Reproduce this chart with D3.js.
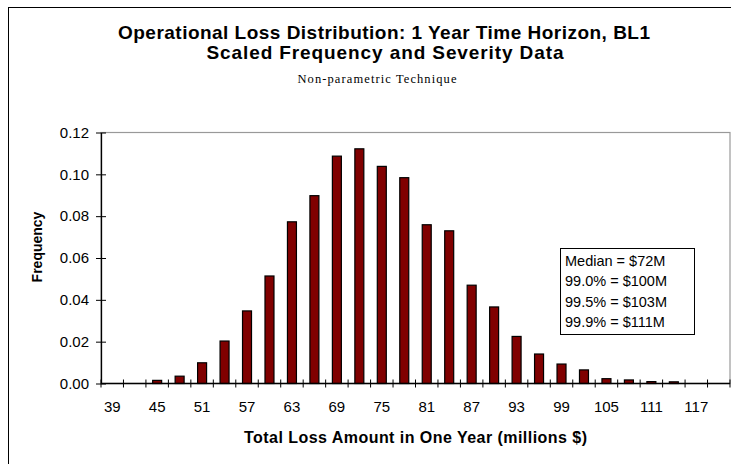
<!DOCTYPE html>
<html>
<head>
<meta charset="utf-8">
<script src="https://cdn.jsdelivr.net/npm/d3@7"></script>
<style>
  body { margin: 0; background: #fff; }
  svg { display: block; }
  text { font-family: "Liberation Sans", Arial, sans-serif; fill: #000; }
</style>
</head>
<body>
<svg id="chart" width="731" height="464"></svg>
<script>
// Total loss bins (millions $), three-million steps
const lossBins = [39, 42, 45, 48, 51, 54, 57, 60, 63, 66, 69, 72, 75, 78,
                  81, 84, 87, 90, 93, 96, 99, 102, 105, 108, 111, 114, 117, 120];
// Relative frequency of each bin
const frequency = [0, 0, 0.0015, 0.0035, 0.0099, 0.0203, 0.0347, 0.0514, 0.0773, 0.0898,
                   0.1087, 0.1122, 0.1038, 0.0984, 0.0759, 0.0730, 0.0470, 0.0366, 0.0225,
                   0.0141, 0.0093, 0.0065, 0.0023, 0.0017, 0.0009, 0.0008, 0, 0];
const yTicks = [0, 0.02, 0.04, 0.06, 0.08, 0.10, 0.12];
const xLabelBins = [39, 45, 51, 57, 63, 69, 75, 81, 87, 93, 99, 105, 111, 117];
const statsLines = ["Median = $72M", "99.0% = $100M", "99.5% = $103M", "99.9% = $111M"];
const titleLines = ["Operational Loss Distribution: 1 Year Time Horizon, BL1",
                    "Scaled Frequency and Severity Data"];
const subtitle = "Non-parametric Technique";
const xTitle = "Total Loss Amount in One Year (millions $)";
const yTitle = "Frequency";

const svg = d3.select("#chart");

// chart frame
svg.append("rect")
  .attr("x", 8.5).attr("y", 7.5).attr("width", 800).attr("height", 500)
  .attr("fill", "#fff").attr("stroke", "#000").attr("stroke-width", 1);

const plot = { left: 101, right: 730, top: 132.5, bottom: 383.5 };

const x = d3.scaleBand()
  .domain(lossBins)
  .range([plot.left, plot.right])
  .paddingInner(0.6)
  .paddingOuter(0.3);

const y = d3.scaleLinear()
  .domain([0, 0.12])
  .range([plot.bottom, plot.top]);

// plot area border
svg.append("rect")
  .attr("x", plot.left).attr("y", plot.top)
  .attr("width", plot.right - plot.left).attr("height", plot.bottom - plot.top)
  .attr("fill", "none").attr("stroke", "#999").attr("stroke-width", 1.2);

// bars
svg.append("g").selectAll("rect")
  .data(lossBins.map((b, i) => ({ bin: b, value: frequency[i] })).filter(d => d.value > 0))
  .join("rect")
  .attr("x", d => x(d.bin))
  .attr("y", d => y(d.value))
  .attr("width", x.bandwidth())
  .attr("height", d => y(0) - y(d.value))
  .attr("fill", "#800000")
  .attr("stroke", "#000")
  .attr("stroke-width", 1.2);

// y axis with ticks crossing the axis line
const yAxis = svg.append("g")
  .attr("transform", `translate(${plot.left},0)`)
  .call(d3.axisLeft(y).tickValues(yTicks).tickFormat(d3.format(".2f"))
    .tickSize(5).tickSizeOuter(0).tickPadding(7));
yAxis.selectAll(".tick line").attr("x1", 5).attr("stroke", "#000");
yAxis.select(".domain").attr("stroke", "#000").attr("stroke-width", 1.3);
yAxis.selectAll(".tick text")
  .style("font-family", "'Liberation Sans', Arial, sans-serif")
  .style("font-size", "15px");

// x axis: labels centred on every other bin
const xAxis = svg.append("g")
  .attr("transform", `translate(0,${plot.bottom})`)
  .call(d3.axisBottom(x).tickValues(xLabelBins).tickSize(0).tickSizeOuter(0).tickPadding(18));
xAxis.select(".domain").remove();
xAxis.selectAll(".tick text")
  .style("font-family", "'Liberation Sans', Arial, sans-serif")
  .style("font-size", "15px");

// x axis line and bin boundary ticks
const step = x.step();
const edges = lossBins.map(b => x(b) - step * x.paddingInner() / 2).concat([plot.right]);
svg.append("line")
  .attr("x1", plot.left).attr("x2", plot.right)
  .attr("y1", plot.bottom).attr("y2", plot.bottom)
  .attr("stroke", "#000").attr("stroke-width", 1.3);
svg.append("g").selectAll("line")
  .data(edges)
  .join("line")
  .attr("x1", d => d).attr("x2", d => d)
  .attr("y1", plot.bottom - 4).attr("y2", plot.bottom + 4)
  .attr("stroke", "#000").attr("stroke-width", 1);

// titles
svg.append("text")
  .attr("x", 384).attr("y", 38.5)
  .attr("text-anchor", "middle")
  .attr("textLength", 532).attr("lengthAdjust", "spacing")
  .style("font-size", "19px").style("font-weight", "bold")
  .text(titleLines[0]);
svg.append("text")
  .attr("x", 385).attr("y", 58.5)
  .attr("text-anchor", "middle")
  .attr("textLength", 357).attr("lengthAdjust", "spacing")
  .style("font-size", "19px").style("font-weight", "bold")
  .text(titleLines[1]);
svg.append("text")
  .attr("x", 377).attr("y", 82.5)
  .attr("text-anchor", "middle")
  .attr("textLength", 159).attr("lengthAdjust", "spacing")
  .style("font-family", "'Liberation Serif', 'Times New Roman', serif")
  .style("font-size", "12.5px")
  .text(subtitle);

// axis titles
svg.append("text")
  .attr("x", 415.5).attr("y", 443)
  .attr("text-anchor", "middle")
  .attr("textLength", 343).attr("lengthAdjust", "spacing")
  .style("font-size", "16px").style("font-weight", "bold")
  .text(xTitle);
svg.append("text")
  .attr("transform", "translate(42,247) rotate(-90)")
  .attr("text-anchor", "middle")
  .style("font-size", "14px").style("font-weight", "bold")
  .text(yTitle);

// quantile summary box
const box = svg.append("g");
box.append("rect")
  .attr("x", 560.5).attr("y", 248.5).attr("width", 134).attr("height", 86)
  .attr("fill", "#fff").attr("stroke", "#000").attr("stroke-width", 1);
box.selectAll("text")
  .data(statsLines)
  .join("text")
  .attr("x", 565)
  .attr("y", (d, i) => 265.5 + i * 20.5)
  .style("font-size", "14.5px")
  .text(d => d);
</script>
</body>
</html>
